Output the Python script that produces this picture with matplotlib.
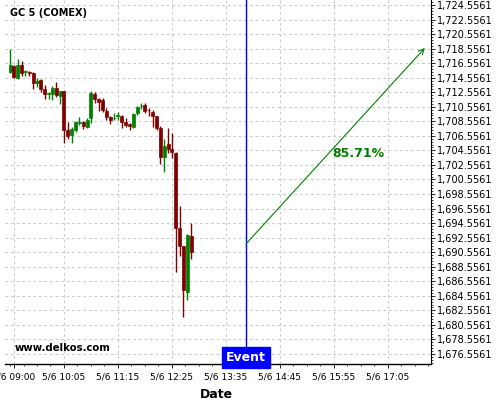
import matplotlib
matplotlib.use("Agg")
import matplotlib.pyplot as plt
import matplotlib.dates as mdates
import matplotlib.ticker as mticker
from matplotlib.transforms import blended_transform_factory
import pandas as pd

# ---------------- data ----------------
title = "GC 5 (COMEX)"
watermark = "www.delkos.com"
first_bar = "2020-05-06 08:55"
bar_minutes = 5

opens = [1715.34, 1716.17, 1714.52, 1716.30, 1715.27, 1715.34, 1715.20, 1713.83,
         1714.24, 1713.00, 1712.32, 1712.32, 1713.14, 1712.04, 1712.73, 1707.36,
         1706.68, 1707.36, 1708.33, 1708.46, 1707.78, 1709.01, 1712.32, 1711.63,
         1711.49, 1709.98, 1709.15, 1708.95, 1709.22, 1709.29, 1708.46, 1708.19,
         1707.78, 1709.70, 1710.60, 1710.80, 1710.18, 1709.84, 1709.29, 1707.64,
         1703.65, 1705.44, 1704.75, 1704.20, 1693.89, 1691.41, 1685.08, 1692.79]
highs = [1718.50, 1716.30, 1717.13, 1716.85, 1715.62, 1715.48, 1715.34, 1714.52,
         1714.38, 1713.55, 1712.59, 1713.42, 1713.97, 1712.73, 1712.73, 1708.46,
         1707.78, 1708.60, 1709.15, 1708.60, 1709.01, 1712.73, 1712.59, 1711.77,
         1711.77, 1710.39, 1709.29, 1709.70, 1709.84, 1709.43, 1709.01, 1708.33,
         1709.70, 1710.67, 1711.08, 1711.08, 1710.39, 1710.12, 1709.29, 1707.91,
         1706.13, 1707.64, 1706.95, 1704.34, 1696.91, 1691.41, 1693.06, 1694.57]
lows = [1715.20, 1714.52, 1714.38, 1714.79, 1714.79, 1714.79, 1713.00, 1713.28,
        1712.59, 1711.63, 1711.63, 1711.49, 1711.90, 1710.94, 1705.58, 1706.13,
        1705.58, 1707.09, 1708.05, 1707.50, 1707.64, 1708.33, 1711.08, 1709.98,
        1709.84, 1708.74, 1708.19, 1708.74, 1708.74, 1707.64, 1707.78, 1707.36,
        1707.64, 1709.43, 1710.25, 1709.70, 1709.29, 1707.78, 1707.36, 1702.69,
        1701.59, 1704.20, 1703.51, 1687.84, 1690.04, 1681.65, 1683.98, 1689.62]
closes = [1716.30, 1714.65, 1716.30, 1715.20, 1715.41, 1715.20, 1713.83, 1714.10,
          1713.00, 1712.32, 1712.45, 1713.14, 1712.18, 1712.73, 1707.36, 1706.54,
          1707.50, 1708.46, 1708.46, 1707.91, 1708.74, 1712.45, 1711.63, 1711.22,
          1710.12, 1709.15, 1708.74, 1709.08, 1709.36, 1708.46, 1708.05, 1707.91,
          1709.57, 1710.53, 1710.73, 1709.98, 1710.05, 1709.29, 1707.64, 1703.65,
          1705.16, 1704.75, 1704.34, 1693.89, 1691.41, 1685.36, 1692.92, 1690.59]

event_time = "2020-05-06 14:01"
event_label = "Event"
arrow_start_price = 1691.69
arrow_end_time = "2020-05-06 17:53"
arrow_end_price = 1718.64
pct_label = "85.71%"
pct_time = "2020-05-06 16:27"
pct_price = 1704.07

xtick_times = ["09:00", "10:05", "11:15", "12:25", "13:35", "14:45", "15:55", "17:05"]
ytick_base = 1676.5561
ytick_step = 2.0
n_yticks = 25
xlim_times = ["2020-05-06 08:48:30", "2020-05-06 18:01:00"]
ylim = (1675.18, 1725.24)

# ---------------- plot ----------------
UP = "#008000"
DOWN = "#800000"

times = pd.date_range(first_bar, periods=len(opens), freq=f"{bar_minutes}min")
xs = mdates.date2num(times.to_pydatetime())
width = 3.9 / 1440.0

fig = plt.figure(figsize=(5, 4), dpi=100)
ax = fig.add_axes([5 / 500, 36 / 400, 426 / 500, 364 / 400])

for x, o, h, l, c in zip(xs, opens, highs, lows, closes):
    col = UP if c >= o else DOWN
    ax.vlines(x, l, h, color=col, lw=1.0, zorder=3)
    bottom = min(o, c)
    height = max(abs(c - o), 0.12)
    ax.bar(x, height, width=width, bottom=bottom, color=col, edgecolor=col,
           lw=0.5, zorder=4)

ev = mdates.date2num(pd.Timestamp(event_time))
ax.axvline(ev, color="#0000ff", lw=1.0, zorder=5)

ax.annotate("", xy=(mdates.date2num(pd.Timestamp(arrow_end_time)), arrow_end_price),
            xytext=(ev, arrow_start_price),
            arrowprops=dict(arrowstyle="->", color=UP, lw=0.8,
                            shrinkA=0, shrinkB=0, mutation_scale=10), zorder=6)
ax.text(mdates.date2num(pd.Timestamp(pct_time)), pct_price, pct_label,
        color=UP, fontsize=9, fontweight="bold", ha="center", va="center")

trans = blended_transform_factory(ax.transData, ax.transAxes)
ax.text(ev, 0.0, event_label, transform=trans, ha="center", va="bottom",
        color="white", fontsize=9, fontweight="bold", zorder=7,
        bbox=dict(boxstyle="square,pad=0.3", fc="#0000ff", ec="#0000ff"))

ax.text(0.012, 0.978, title, transform=ax.transAxes, fontsize=7,
        fontweight="bold", ha="left", va="top")
ax.text(0.022, 0.03, watermark, transform=ax.transAxes, fontsize=7.3,
        fontweight="bold", ha="left", va="bottom")

x0 = mdates.date2num(pd.Timestamp(xlim_times[0]))
x1 = mdates.date2num(pd.Timestamp(xlim_times[1]))

major = [mdates.date2num(pd.Timestamp("2020-05-06 " + t)) for t in xtick_times]
ax.set_xticks(major)
ax.set_xticklabels(["5/6 " + t for t in xtick_times], fontsize=6.5)
step = 17.5 / 1440.0
minor = [major[1] + k * step for k in range(-4, 30)]
minor = [m for m in minor if x0 <= m <= x1]
ax.set_xticks(minor, minor=True)
ax.set_xlim(x0, x1)

yt = [ytick_base + ytick_step * k for k in range(n_yticks)]
ax.set_yticks(yt)
ax.yaxis.set_major_formatter(mticker.FuncFormatter(lambda v, p: f"{v:,.4f}"))
ax.yaxis.set_minor_locator(mticker.AutoMinorLocator(5))
ax.yaxis.tick_right()
ax.set_ylim(*ylim)
ax.tick_params(axis="y", which="major", labelsize=7, length=3, width=0.6, pad=1)
ax.tick_params(axis="y", which="minor", length=1.5, width=0.5)
ax.tick_params(axis="x", which="major", length=3, width=0.6, pad=3)
ax.tick_params(axis="x", which="minor", length=1.5, width=0.5)

ax.set_xlabel("Date", fontsize=9, fontweight="bold", labelpad=1)
ax.xaxis.set_label_coords(0.496, -0.065)

for s in ["left", "top"]:
    ax.spines[s].set_visible(False)
ax.spines["bottom"].set_linewidth(1.0)
ax.spines["right"].set_linewidth(0.8)

ax.grid(True, which="major", color="#cccccc", linestyle=(0, (2.5, 2.5)), lw=0.8)
ax.set_axisbelow(True)

fig.savefig("out.png", dpi=100)
